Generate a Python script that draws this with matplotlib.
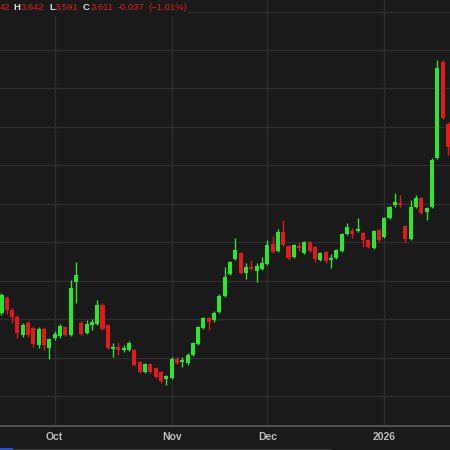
import numpy as np
import matplotlib
matplotlib.use("Agg")
import matplotlib.pyplot as plt
from matplotlib.patches import Rectangle

# daily candles (oldest first)
opens = [2.916, 2.955, 2.924, 2.906, 2.859, 2.890, 2.877, 2.833, 2.875, 2.825,
         2.851, 2.856, 2.880, 2.859, 2.997, 2.890, 2.864, 2.885, 2.888, 2.937,
         2.885, 2.823, 2.828, 2.820, 2.820, 2.820, 2.789, 2.763, 2.784, 2.773,
         2.763, 2.745, 2.747, 2.797, 2.789, 2.786, 2.807, 2.836, 2.877, 2.903,
         2.898, 2.919, 2.960, 3.018, 3.057, 3.072, 3.020, 3.036, 3.025, 3.031,
         3.044, 3.096, 3.077, 3.127, 3.090, 3.062, 3.090, 3.072, 3.101, 3.088,
         3.054, 3.075, 3.054, 3.059, 3.077, 3.122, 3.129, 3.129, 3.124, 3.106,
         3.085, 3.132, 3.114, 3.163, 3.197, 3.202, 3.142, 3.109, 3.192, 3.215,
         3.179, 3.192, 3.319, 3.569, 3.408]
highs = [2.968, 2.960, 2.929, 2.911, 2.890, 2.895, 2.882, 2.880, 2.880, 2.851,
         2.869, 2.888, 2.882, 3.002, 3.049, 2.895, 2.898, 2.901, 2.950, 2.942,
         2.888, 2.838, 2.841, 2.833, 2.843, 2.823, 2.791, 2.786, 2.786, 2.776,
         2.765, 2.755, 2.802, 2.802, 2.802, 2.812, 2.841, 2.882, 2.906, 2.906,
         2.921, 2.966, 3.036, 3.051, 3.111, 3.075, 3.046, 3.054, 3.046, 3.062,
         3.106, 3.116, 3.135, 3.158, 3.093, 3.096, 3.101, 3.103, 3.103, 3.090,
         3.075, 3.077, 3.070, 3.083, 3.124, 3.150, 3.137, 3.163, 3.127, 3.109,
         3.132, 3.135, 3.166, 3.194, 3.228, 3.223, 3.145, 3.210, 3.223, 3.218,
         3.192, 3.319, 3.574, 3.574, 3.413]
lows = [2.911, 2.914, 2.890, 2.851, 2.854, 2.854, 2.828, 2.825, 2.820, 2.797,
        2.846, 2.851, 2.856, 2.856, 2.942, 2.859, 2.862, 2.872, 2.885, 2.872,
        2.823, 2.802, 2.807, 2.815, 2.817, 2.778, 2.760, 2.760, 2.760, 2.747,
        2.734, 2.729, 2.745, 2.784, 2.776, 2.781, 2.804, 2.833, 2.875, 2.872,
        2.893, 2.916, 2.958, 3.015, 3.054, 3.018, 3.005, 3.028, 2.997, 3.028,
        3.041, 3.072, 3.075, 3.090, 3.054, 3.059, 3.077, 3.070, 3.075, 3.049,
        3.051, 3.046, 3.033, 3.057, 3.075, 3.119, 3.111, 3.127, 3.088, 3.085,
        3.083, 3.103, 3.111, 3.161, 3.192, 3.192, 3.101, 3.106, 3.189, 3.174,
        3.158, 3.189, 3.317, 3.421, 3.327]
closes = [2.963, 2.924, 2.906, 2.864, 2.885, 2.859, 2.836, 2.875, 2.833, 2.849,
          2.862, 2.882, 2.859, 2.981, 3.015, 2.862, 2.888, 2.893, 2.937, 2.875,
          2.825, 2.828, 2.820, 2.825, 2.838, 2.781, 2.763, 2.784, 2.763, 2.750,
          2.739, 2.752, 2.797, 2.786, 2.794, 2.807, 2.838, 2.880, 2.903, 2.893,
          2.916, 2.960, 3.010, 3.049, 3.080, 3.020, 3.036, 3.031, 3.038, 3.046,
          3.093, 3.075, 3.127, 3.093, 3.059, 3.093, 3.085, 3.101, 3.077, 3.057,
          3.072, 3.051, 3.059, 3.080, 3.122, 3.140, 3.122, 3.135, 3.106, 3.088,
          3.129, 3.106, 3.163, 3.192, 3.205, 3.197, 3.109, 3.192, 3.215, 3.176,
          3.189, 3.314, 3.553, 3.423, 3.348]

month_idx = [10, 32, 50, 72]
month_labels = ["Oct", "Nov", "Dec", "2026"]
price_grid = [2.7, 2.8, 2.9, 3.0, 3.1, 3.2, 3.3, 3.4, 3.5, 3.6, 3.7]

BG = "#1a1a1a"
GREEN = "#2ee62e"
RED = "#e3191c"
GRID = "#2e2e2e"
FONT = "Liberation Sans"

o = np.array(opens)
h = np.array(highs)
l = np.array(lows)
c = np.array(closes)
x = np.arange(len(o))
up = c >= o
cols = np.where(up, GREEN, RED)

fig = plt.figure(figsize=(4.5, 4.5), dpi=100, facecolor=BG)
ax = fig.add_axes([0, 24 / 450, 1, 426 / 450])
ax.set_facecolor(BG)

ax.vlines(x, l, h, colors=cols, linewidth=1.0, zorder=2)
body_lo = np.minimum(o, c)
body_h = np.maximum(np.abs(c - o), 0.005)
ax.bar(x, body_h, bottom=body_lo, width=0.76, color=cols, linewidth=0, zorder=3)

ax.set_xlim(-0.28, 84.38)
ax.set_ylim(2.622, 3.73)

ax.set_yticks(price_grid)
ax.set_xticks(month_idx)
ax.set_xticklabels(month_labels, family=FONT, fontweight="bold")
ax.grid(True, color=GRID, linewidth=1.0, zorder=0)
ax.tick_params(axis="y", length=0, labelleft=False)
ax.tick_params(axis="x", length=0, pad=4.5, labelsize=7.5, labelcolor="#bdbdbd")

for side in ["top", "left", "right"]:
    ax.spines[side].set_visible(False)
ax.spines["bottom"].set_color("#5c5c5c")
ax.spines["bottom"].set_linewidth(1.2)

# header box with OHLC readout
fig.add_artist(Rectangle((0, 1 - 16 / 450), 188 / 450, 16 / 450,
                         transform=fig.transFigure, facecolor=BG,
                         edgecolor="none", zorder=5))
pieces = [("42", 0, RED, "normal"), ("H", 13, "#dddddd", "bold"),
          ("3.642", 21, RED, "normal"), ("L", 49, "#dddddd", "bold"),
          ("3.591", 55, RED, "normal"), ("C", 83, "#dddddd", "bold"),
          ("3.611", 91, RED, "normal"), ("-0.037", 118, RED, "normal"),
          ("(\u22121.01%)", 148, RED, "normal")]
for txt, px, col, wt in pieces:
    fig.text(px / 450, 1 - 7 / 450, txt, color=col, fontsize=6.8, fontweight=wt,
             family=FONT, va="center", ha="left", zorder=6)

# navigator strip under the axis
fig.add_artist(Rectangle((0, 0), 332 / 450, 1 / 450, transform=fig.transFigure,
                         facecolor="#3a3a3a", edgecolor="none"))
fig.add_artist(Rectangle((0, 0), 13 / 450, 2 / 450, transform=fig.transFigure,
                         facecolor="#2a4fd0", edgecolor="none"))

fig.savefig("out.png", dpi=100, facecolor=BG)
